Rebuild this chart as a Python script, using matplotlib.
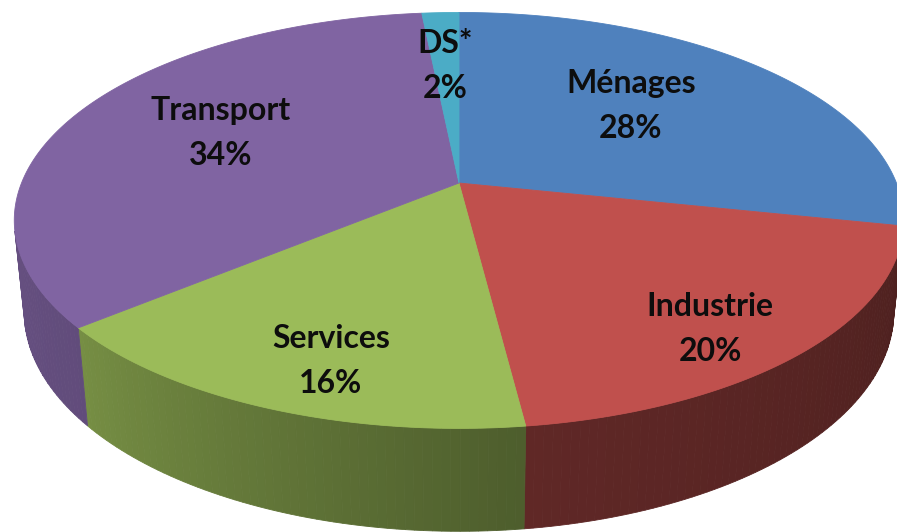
import numpy as np
import matplotlib.pyplot as plt
from matplotlib.colors import to_rgb

plt.rcParams['font.family'] = ['Lato', 'DejaVu Sans']

categories = ["Ménages", "Industrie", "Services", "Transport", "DS*"]
shares = [28.3, 19.7, 16.0, 34.4, 1.6]
colors = ["#4f81bd", "#c0504d", "#9bbb59", "#8064a2", "#4bacc6"]

# baseline of the name line for each label, in pixels (percent goes below)
label_pos = [(631, 93), (710, 316), (331, 348), (221, 120), (445, 53)]
LINE_GAP = 45
FONT_SIZE = 23

# simple perspective camera for the tilted disc
ELEV = np.arcsin(0.46)
DIST = np.cos(ELEV) / 0.18
DEPTH = 0.237
SCALE = 2158
CX, CY = 459, 183


def project(t, z=0.0, r=1.0):
    """world angle t (rad) on the disc -> pixel coords"""
    x = r * np.cos(t)
    y = r * np.sin(t)
    s, c = np.sin(ELEV), np.cos(ELEV)
    vy = y + DIST * c
    vz = z - DIST * s
    yc = vy * s + vz * c
    zc = vy * c - vz * s
    return CX + SCALE * x / zc, CY - SCALE * yc / zc


def shade(tdeg):
    return np.interp(tdeg, [-170, -140, -83, -10], [0.80, 0.76, 0.50, 0.40])


fig = plt.figure(figsize=(8.97, 5.32), dpi=100)
ax = fig.add_axes([0, 0, 1, 1])
ax.set_xlim(0, 897)
ax.set_ylim(532, 0)
ax.axis("off")

total = sum(shares)
edges = 90 - 360 * np.concatenate([[0], np.cumsum(shares)]) / total

# side wall is only seen where it faces the camera
lim = np.degrees(np.arcsin(1 / (DIST * np.cos(ELEV))))
side_lo, side_hi = -180 + lim, -lim

# side walls first
for i, col in enumerate(colors):
    t1, t2 = edges[i], edges[i + 1]
    for off in (0, -360):
        a = max(min(t1, t2) + off, side_lo)
        b = min(max(t1, t2) + off, side_hi)
        if a >= b:
            continue
        steps = np.linspace(a, b, max(int(b - a), 1) + 1)
        for s0, s1 in zip(steps[:-1], steps[1:]):
            tt = np.radians(np.linspace(s0, s1, 4))
            xt, yt = project(tt)
            xb, yb = project(tt[::-1], z=-DEPTH)
            fc = np.array(to_rgb(col)) * shade((s0 + s1) / 2)
            ax.fill(np.concatenate([xt, xb]), np.concatenate([yt, yb]),
                    facecolor=fc, edgecolor=fc, lw=0.6)

# top faces
for i, col in enumerate(colors):
    tt = np.radians(np.linspace(edges[i], edges[i + 1], 200))
    xa, ya = project(tt)
    ax.fill(np.concatenate([[CX], xa]), np.concatenate([[CY], ya]),
            facecolor=col, edgecolor=col, lw=0.6)

# labels
for name, v, (lx, ly) in zip(categories, shares, label_pos):
    ax.text(lx, ly, name, ha="center", va="baseline", fontsize=FONT_SIZE,
            fontweight="bold", color="#0d0d0d")
    ax.text(lx, ly + LINE_GAP, "%.0f%%" % v, ha="center", va="baseline",
            fontsize=FONT_SIZE, fontweight="bold", color="#0d0d0d")

fig.savefig("out.png", dpi=100)
